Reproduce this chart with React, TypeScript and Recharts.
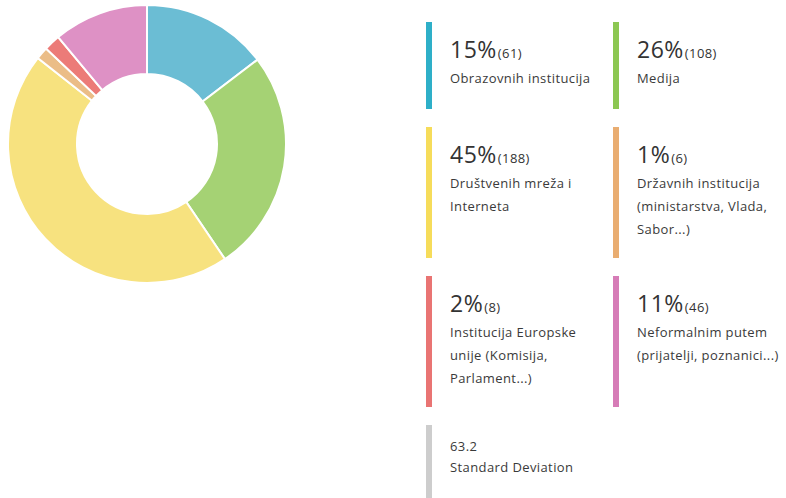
import React from 'react';
import { PieChart, Pie, Cell } from 'recharts';

const names = [
  'Obrazovnih institucija',
  'Medija',
  'Društvenih mreža i\nInterneta',
  'Državnih institucija\n(ministarstva, Vlada,\nSabor...)',
  'Institucija Europske\nunije (Komisija,\nParlament...)',
  'Neformalnim putem\n(prijatelji, poznanici...)',
];
const counts = [61, 108, 188, 6, 8, 46];
const percents = ['15%', '26%', '45%', '1%', '2%', '11%'];
const sliceColors = ['#6bbdd4', '#a5d274', '#f7e27f', '#ebbd87', '#ec7b78', '#de91c5'];
const barColors = ['#2eafc8', '#8cc752', '#f6dc5a', '#e9ad71', '#e97473', '#d67cb7'];
const stdDev = '63.2';
const stdDevLabel = 'Standard Deviation';

// legend box grid (column x, row top/height)
const colLeft = [426, 613];
const rowTop = [22, 127, 276, 425];
const rowHeight = [87, 131, 131, 90];

const data = names.map((name, i) => ({ name, value: counts[i] }));

const App: React.FC = () => {
  return (
    <div
      style={{
        position: 'absolute',
        left: 0,
        top: 0,
        width: 786,
        height: 498,
        background: '#fff',
        fontFamily: '"Open Sans", sans-serif',
        color: '#333',
        overflow: 'hidden',
      }}
    >
      <div style={{ position: 'absolute', left: 0, top: 0 }}>
        <PieChart width={300} height={290} margin={{ top: 0, right: 0, bottom: 0, left: 0 }}>
          <Pie
            data={data}
            dataKey="value"
            cx={147}
            cy={144}
            innerRadius={70}
            outerRadius={139}
            startAngle={90}
            endAngle={-270}
            stroke="#fff"
            strokeWidth={2}
            isAnimationActive={false}
          >
            {data.map((entry, index) => (
              <Cell key={`cell-${index}`} fill={sliceColors[index]} />
            ))}
          </Pie>
        </PieChart>
      </div>

      {data.map((entry, i) => {
        const row = Math.floor(i / 2);
        const col = i % 2;
        return (
          <div
            key={entry.name}
            style={{
              position: 'absolute',
              left: colLeft[col],
              top: rowTop[row],
              height: rowHeight[row],
              width: 180,
              borderLeft: `6px solid ${barColors[i]}`,
              paddingLeft: 18,
              boxSizing: 'border-box',
            }}
          >
            <div style={{ paddingTop: 14, lineHeight: '26px', whiteSpace: 'nowrap' }}>
              <span style={{ fontSize: 23, letterSpacing: 0.5 }}>{percents[i]}</span>
              <span style={{ fontSize: 13, letterSpacing: 0.4, marginLeft: 1 }}>({entry.value})</span>
            </div>
            <div
              style={{
                marginTop: 1,
                fontSize: 13,
                letterSpacing: 0.4,
                lineHeight: '23px',
                whiteSpace: 'pre',
                color: '#3a3a3a',
              }}
            >
              {entry.name}
            </div>
          </div>
        );
      })}

      <div
        style={{
          position: 'absolute',
          left: colLeft[0],
          top: rowTop[3],
          height: rowHeight[3],
          width: 180,
          borderLeft: '6px solid #cdcdcd',
          paddingLeft: 18,
          paddingTop: 11,
          boxSizing: 'border-box',
          fontSize: 13,
          letterSpacing: 0.4,
          lineHeight: '21px',
          color: '#3a3a3a',
        }}
      >
        <div>{stdDev}</div>
        <div>{stdDevLabel}</div>
      </div>
    </div>
  );
};

export default App;
